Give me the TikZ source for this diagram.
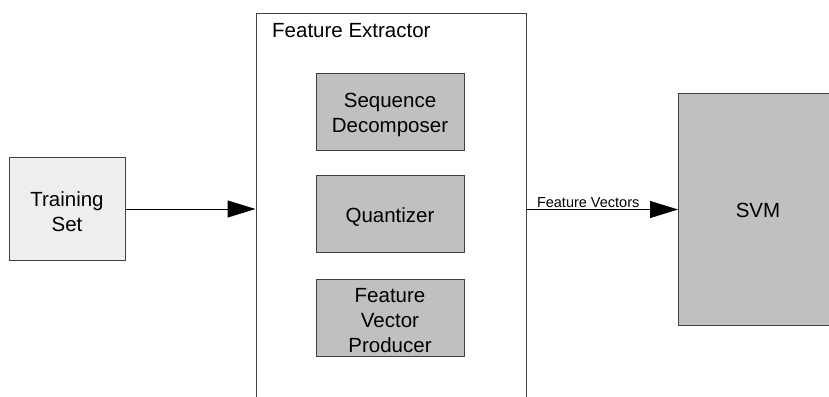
\documentclass[tikz,border=0pt]{standalone}
\usepackage{fontspec}
\setmainfont{Liberation Sans}
\usetikzlibrary{arrows.meta}
\definecolor{lightfill}{HTML}{EEEEEE}
\definecolor{midfill}{HTML}{C0C0C0}
\definecolor{edge}{HTML}{404040}
\tikzset{
  box/.style={draw=edge, line width=1pt, rectangle, inner sep=0pt},
  inner/.style={box, fill=midfill, minimum width=148pt, minimum height=77pt},
  lbl/.style={align=center, inner sep=0pt, yshift=-3pt, font=\fontsize{20.5}{25}\selectfont},
  flow/.style={line width=1pt, -{Triangle[length=28pt,width=17pt]}}
}
\begin{document}
\begin{tikzpicture}[x=1pt, y=-1pt]
  \useasboundingbox (0,0) rectangle (829,396);
  \clip (0,0) rectangle (829,396);
  % training data
  \node[box, fill=lightfill, minimum width=116pt, minimum height=103pt] (ts) at (67,209) {};
  \node[lbl] (tst) at (ts) {Training\\Set};
  % feature extractor frame, runs off the bottom edge
  \node[box, fill=white, minimum width=270pt, minimum height=400pt] (fe) at (391,214) {};
  \node[anchor=north west, inner sep=0pt, font=\fontsize{20.5}{25}\selectfont] (fet) at (272,23) {Feature Extractor};
  % stages inside the extractor
  \node[inner] (sd) at (390,111.5) {};
  \node[lbl] (sdt) at (sd) {Sequence\\Decomposer};
  \node[inner] (qz) at (390,214) {};
  \node[lbl] (qzt) at (qz) {Quantizer};
  \node[inner] (fv) at (390,317.5) {};
  \node[lbl] (fvt) at (fv) {Feature\\Vector\\Producer};
  % classifier, runs off the right edge
  \node[box, fill=midfill, minimum width=160pt, minimum height=232pt, anchor=north west] (svm) at (678,93) {};
  \node[lbl, yshift=2pt] (svmt) at (758,209) {SVM};
  % connectors
  \draw[flow] (ts.east) -- (ts.east -| fe.west);
  \draw[flow] (svm.west -| fe.east) -- node[pos=0, anchor=south west, xshift=9pt, inner sep=1pt,
      font=\fontsize{14.5}{17}\selectfont] (fvl) {Feature Vectors} (svm.west);
\end{tikzpicture}
\end{document}
